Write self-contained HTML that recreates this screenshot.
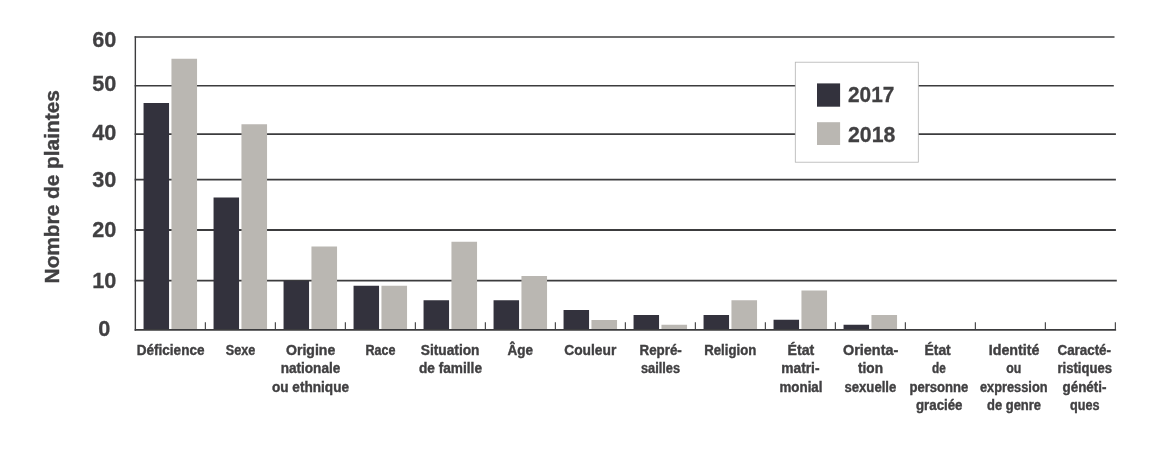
<!DOCTYPE html>
<html lang="fr"><head><meta charset="utf-8"><title>Nombre de plaintes</title>
<style>
html,body{margin:0;padding:0;background:#fff;}
body{width:1156px;height:460px;overflow:hidden;}
svg{display:block;}
svg text{font-family:"Liberation Sans",sans-serif;font-weight:bold;fill:#414042;}
.yl{font-size:22.5px;stroke:#414042;stroke-width:0.3px;}
.yt{font-size:20px;stroke:#414042;stroke-width:0.4px;}
.xl{font-size:13.8px;stroke:#414042;stroke-width:0.38px;}
</style></head><body>
<svg width="1156" height="460" viewBox="0 0 1156 460">
<rect width="1156" height="460" fill="#fff"/>
<g stroke="#3c3c3e" stroke-width="1.7" fill="none">
<line x1="134.65" y1="37.00" x2="1114.50" y2="37.00"/>
<line x1="134.65" y1="85.75" x2="1113.80" y2="85.75"/>
<line x1="134.65" y1="134.05" x2="1115.90" y2="134.05"/>
<line x1="134.65" y1="179.55" x2="1115.90" y2="179.55"/>
<line x1="134.65" y1="230.00" x2="1115.90" y2="230.00" stroke-width="2"/>
<line x1="134.65" y1="280.70" x2="1116.80" y2="280.70"/>
</g>
<g>
<rect x="143.55" y="103.00" width="25.5" height="226.90" fill="#33323d"/><rect x="171.45" y="58.75" width="25.6" height="271.15" fill="#bab7b2"/>
<rect x="213.55" y="197.50" width="25.5" height="132.40" fill="#33323d"/><rect x="241.45" y="124.25" width="25.6" height="205.65" fill="#bab7b2"/>
<rect x="283.55" y="280.90" width="25.5" height="49.00" fill="#33323d"/><rect x="311.45" y="246.50" width="25.6" height="83.40" fill="#bab7b2"/>
<rect x="353.55" y="285.75" width="25.5" height="44.15" fill="#33323d"/><rect x="381.45" y="285.75" width="25.6" height="44.15" fill="#bab7b2"/>
<rect x="423.55" y="300.25" width="25.5" height="29.65" fill="#33323d"/><rect x="451.45" y="241.75" width="25.6" height="88.15" fill="#bab7b2"/>
<rect x="493.55" y="300.25" width="25.5" height="29.65" fill="#33323d"/><rect x="521.45" y="276.00" width="25.6" height="53.90" fill="#bab7b2"/>
<rect x="563.55" y="310.00" width="25.5" height="19.90" fill="#33323d"/><rect x="591.45" y="320.00" width="25.6" height="9.90" fill="#bab7b2"/>
<rect x="633.55" y="315.00" width="25.5" height="14.90" fill="#33323d"/><rect x="661.45" y="324.75" width="25.6" height="5.15" fill="#bab7b2"/>
<rect x="703.55" y="315.00" width="25.5" height="14.90" fill="#33323d"/><rect x="731.45" y="300.25" width="25.6" height="29.65" fill="#bab7b2"/>
<rect x="773.55" y="319.75" width="25.5" height="10.15" fill="#33323d"/><rect x="801.45" y="290.50" width="25.6" height="39.40" fill="#bab7b2"/>
<rect x="843.55" y="324.75" width="25.5" height="5.15" fill="#33323d"/><rect x="871.45" y="315.00" width="25.6" height="14.90" fill="#bab7b2"/>
</g>
<g stroke="#3c3c3e" fill="none">
<line x1="135.35" y1="36.30" x2="135.35" y2="330.70" stroke-width="1.4"/>
<line x1="134.65" y1="329.90" x2="1116.10" y2="329.90" stroke-width="1.6"/>
<line x1="205.35" y1="322.30" x2="205.35" y2="329.90" stroke-width="1.1"/>
<line x1="275.35" y1="322.30" x2="275.35" y2="329.90" stroke-width="1.1"/>
<line x1="345.35" y1="322.30" x2="345.35" y2="329.90" stroke-width="1.1"/>
<line x1="415.35" y1="322.30" x2="415.35" y2="329.90" stroke-width="1.1"/>
<line x1="485.35" y1="322.30" x2="485.35" y2="329.90" stroke-width="1.1"/>
<line x1="555.35" y1="322.30" x2="555.35" y2="329.90" stroke-width="1.1"/>
<line x1="625.35" y1="322.30" x2="625.35" y2="329.90" stroke-width="1.1"/>
<line x1="695.35" y1="322.30" x2="695.35" y2="329.90" stroke-width="1.1"/>
<line x1="765.35" y1="322.30" x2="765.35" y2="329.90" stroke-width="1.1"/>
<line x1="835.35" y1="322.30" x2="835.35" y2="329.90" stroke-width="1.1"/>
<line x1="905.35" y1="322.30" x2="905.35" y2="329.90" stroke-width="1.1"/>
<line x1="975.35" y1="322.30" x2="975.35" y2="329.90" stroke-width="1.1"/>
<line x1="1045.35" y1="322.30" x2="1045.35" y2="329.90" stroke-width="1.1"/>
<line x1="1115.35" y1="322.30" x2="1115.35" y2="329.90" stroke-width="1.1"/>
</g>
<rect x="795.3" y="62.2" width="123" height="100" fill="#fff" stroke="#b3b3b3" stroke-width="0.8"/>
<rect x="817" y="83.4" width="23.1" height="23.3" fill="#33323d"/>
<rect x="817" y="122.2" width="23.1" height="22.8" fill="#bab7b2"/>
<text class="yl" x="848.0" y="102" textLength="46.3" lengthAdjust="spacingAndGlyphs">2017</text>
<text class="yl" x="848.0" y="142" textLength="47.3" lengthAdjust="spacingAndGlyphs">2018</text>
<text class="yl" x="92.25" y="47.0" textLength="24.1" lengthAdjust="spacingAndGlyphs">60</text>
<text class="yl" x="92.25" y="91.0" textLength="24.1" lengthAdjust="spacingAndGlyphs">50</text>
<text class="yl" x="92.25" y="140.0" textLength="24.1" lengthAdjust="spacingAndGlyphs">40</text>
<text class="yl" x="92.25" y="187.0" textLength="24.1" lengthAdjust="spacingAndGlyphs">30</text>
<text class="yl" x="92.25" y="237.0" textLength="24.1" lengthAdjust="spacingAndGlyphs">20</text>
<text class="yl" x="92.25" y="288.0" textLength="24.1" lengthAdjust="spacingAndGlyphs">10</text>
<text class="yl" x="98.3" y="336.0" textLength="12.05" lengthAdjust="spacingAndGlyphs">0</text>
<text class="yt" transform="translate(59.2 283.4) rotate(-90)" x="0" y="0" textLength="193.2" lengthAdjust="spacingAndGlyphs">Nombre de plaintes</text>
<text class="xl" x="136.75" y="354.7" textLength="67.75" lengthAdjust="spacingAndGlyphs">Déficience</text>
<text class="xl" x="225.75" y="354.7" textLength="29.50" lengthAdjust="spacingAndGlyphs">Sexe</text>
<text class="xl" x="286.00" y="354.7" textLength="49.25" lengthAdjust="spacingAndGlyphs">Origine</text>
<text class="xl" x="280.75" y="373.2" textLength="59.50" lengthAdjust="spacingAndGlyphs">nationale</text>
<text class="xl" x="272.00" y="391.7" textLength="77.00" lengthAdjust="spacingAndGlyphs">ou ethnique</text>
<text class="xl" x="365.50" y="354.7" textLength="30.00" lengthAdjust="spacingAndGlyphs">Race</text>
<text class="xl" x="420.75" y="354.7" textLength="58.75" lengthAdjust="spacingAndGlyphs">Situation</text>
<text class="xl" x="419.00" y="373.2" textLength="63.00" lengthAdjust="spacingAndGlyphs">de famille</text>
<text class="xl" x="507.50" y="354.7" textLength="25.50" lengthAdjust="spacingAndGlyphs">Âge</text>
<text class="xl" x="564.25" y="354.7" textLength="52.00" lengthAdjust="spacingAndGlyphs">Couleur</text>
<text class="xl" x="639.50" y="354.7" textLength="42.25" lengthAdjust="spacingAndGlyphs">Repré-</text>
<text class="xl" x="641.00" y="373.2" textLength="39.00" lengthAdjust="spacingAndGlyphs">sailles</text>
<text class="xl" x="704.25" y="354.7" textLength="52.00" lengthAdjust="spacingAndGlyphs">Religion</text>
<text class="xl" x="787.50" y="354.7" textLength="26.75" lengthAdjust="spacingAndGlyphs">État</text>
<text class="xl" x="781.25" y="373.2" textLength="38.25" lengthAdjust="spacingAndGlyphs">matri-</text>
<text class="xl" x="779.50" y="391.7" textLength="43.00" lengthAdjust="spacingAndGlyphs">monial</text>
<text class="xl" x="843.00" y="354.7" textLength="55.25" lengthAdjust="spacingAndGlyphs">Orienta-</text>
<text class="xl" x="858.00" y="373.2" textLength="25.00" lengthAdjust="spacingAndGlyphs">tion</text>
<text class="xl" x="844.50" y="391.7" textLength="51.75" lengthAdjust="spacingAndGlyphs">sexuelle</text>
<text class="xl" x="924.50" y="354.7" textLength="26.25" lengthAdjust="spacingAndGlyphs">État</text>
<text class="xl" x="932.00" y="373.2" textLength="13.75" lengthAdjust="spacingAndGlyphs">de</text>
<text class="xl" x="909.50" y="391.7" textLength="58.75" lengthAdjust="spacingAndGlyphs">personne</text>
<text class="xl" x="916.00" y="410.2" textLength="46.50" lengthAdjust="spacingAndGlyphs">graciée</text>
<text class="xl" x="988.75" y="354.7" textLength="50.75" lengthAdjust="spacingAndGlyphs">Identité</text>
<text class="xl" x="1006.25" y="373.2" textLength="15.00" lengthAdjust="spacingAndGlyphs">ou</text>
<text class="xl" x="980.00" y="391.7" textLength="67.50" lengthAdjust="spacingAndGlyphs">expression</text>
<text class="xl" x="987.00" y="410.2" textLength="54.00" lengthAdjust="spacingAndGlyphs">de genre</text>
<text class="xl" x="1057.50" y="354.7" textLength="53.50" lengthAdjust="spacingAndGlyphs">Caracté-</text>
<text class="xl" x="1057.50" y="373.2" textLength="54.50" lengthAdjust="spacingAndGlyphs">ristiques</text>
<text class="xl" x="1062.50" y="391.7" textLength="44.00" lengthAdjust="spacingAndGlyphs">généti-</text>
<text class="xl" x="1070.00" y="410.2" textLength="29.50" lengthAdjust="spacingAndGlyphs">ques</text>
</svg>
</body></html>
